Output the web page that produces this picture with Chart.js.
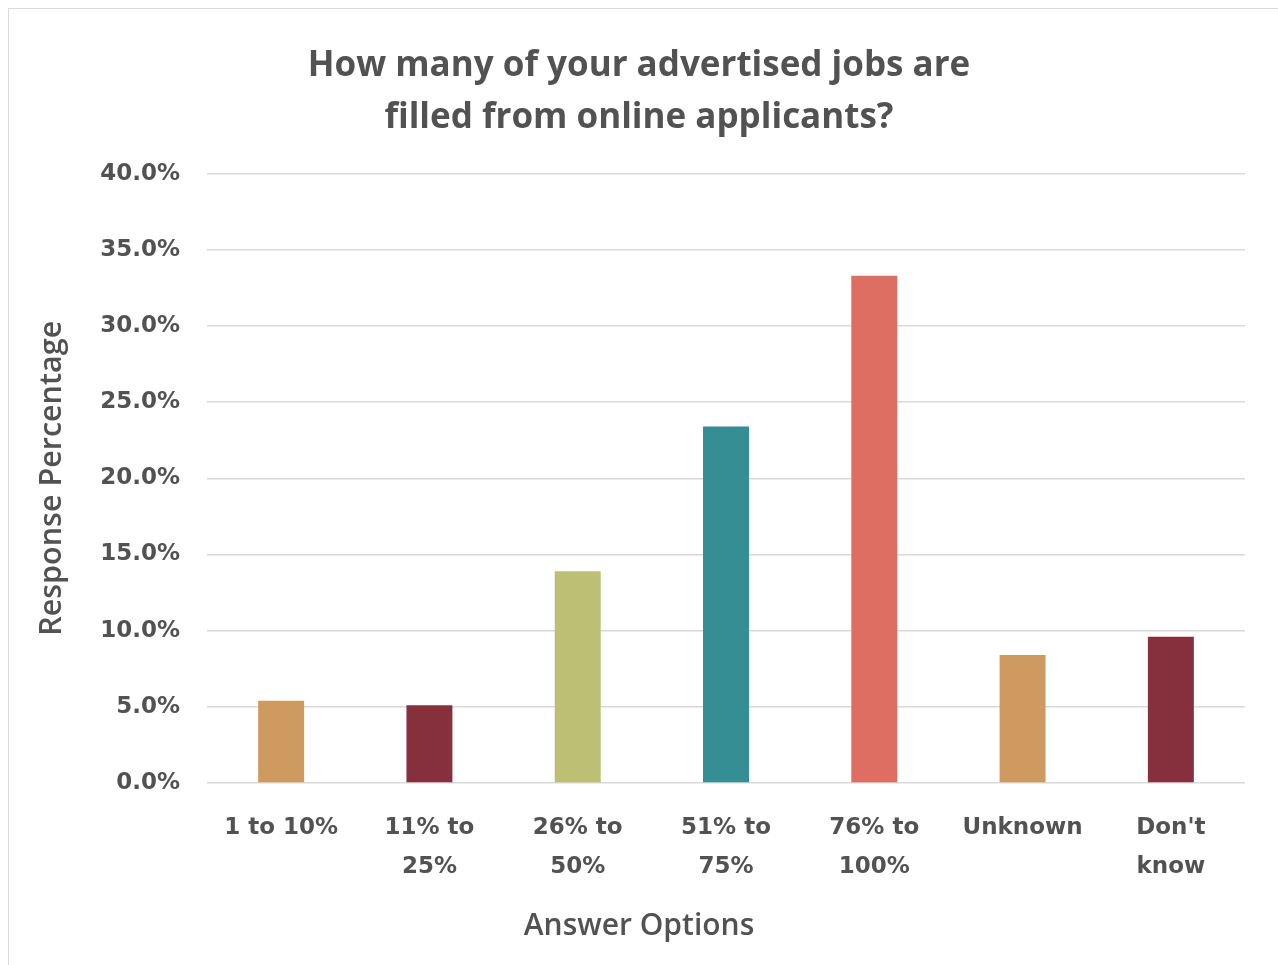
<!DOCTYPE html>
<html>
<head>
<meta charset="utf-8">
<script src="https://cdn.jsdelivr.net/npm/chart.js@4.4.0/dist/chart.umd.min.js"></script>
<style>
  html, body { margin: 0; padding: 0; background: #fff; overflow: hidden; }
  .frame { position: absolute; left: 8px; top: 8px; width: 1400px; height: 1100px; border: 1px solid #d9d9d9; }
  .wrap { position: absolute; left: 0; top: 0; width: 1278px; height: 965px; }
</style>
</head>
<body>
<div class="frame"></div>
<div class="wrap"><canvas id="chart"></canvas></div>
<script>
const answerOptions = [
  ['1 to 10%'],
  ['11% to', '25%'],
  ['26% to', '50%'],
  ['51% to', '75%'],
  ['76% to', '100%'],
  ['Unknown'],
  ["Don't", 'know']
];
const responsePct = [5.4, 5.1, 13.9, 23.4, 33.3, 8.4, 9.6];
const barColors = ['#CF9A60', '#87303D', '#BDBF74', '#348E93', '#DE6D62', '#CF9A60', '#87303D'];
const titleLines = ['How many of your advertised jobs are', 'filled from online applicants?'];
const xTitle = 'Answer Options';
const yTitle = 'Response Percentage';

const textColor = '#525252';

const chart = new Chart(document.getElementById('chart'), {
  type: 'bar',
  data: {
    labels: answerOptions,
    datasets: [{
      label: yTitle,
      data: responsePct,
      backgroundColor: barColors,
      borderWidth: 0,
      barPercentage: 0.31,
      categoryPercentage: 1.0
    }]
  },
  options: {
    responsive: true,
    maintainAspectRatio: false,
    animation: false,
    layout: { padding: { left: 33, right: 33, top: 0, bottom: 0 } },
    plugins: {
      legend: { display: false },
      tooltip: { enabled: false },
      title: {
        display: true,
        text: titleLines,
        color: textColor,
        font: { family: 'Open Sans', size: 35, weight: '700', lineHeight: 1.48 },
        padding: { top: 40, bottom: 30 }
      },
      // axis caption under the ticks, centred on the whole chart box
      subtitle: {
        display: true,
        position: 'bottom',
        text: xTitle,
        color: textColor,
        font: { family: 'Open Sans', size: 30, weight: '600', lineHeight: 1.2 },
        padding: { top: 0, bottom: 21 }
      }
    },
    scales: {
      x: {
        grid: { display: false },
        border: { display: false },
        ticks: {
          color: textColor,
          font: { family: 'DejaVu Sans', size: 23, weight: 'bold', lineHeight: 1.7 },
          padding: 17,
          maxRotation: 0,
          autoSkip: false
        },
        afterFit: (scale) => { scale.height = 125; }
      },
      y: {
        min: 0,
        max: 40,
        grid: { color: '#d9d9d9', lineWidth: 1.5, drawTicks: false },
        border: { display: false },
        ticks: {
          stepSize: 5,
          color: textColor,
          font: { family: 'DejaVu Sans', size: 23, weight: 'bold' },
          padding: 27,
          callback: (v) => v.toFixed(1) + '%'
        },
        title: {
          display: true,
          text: yTitle,
          color: textColor,
          font: { family: 'Open Sans', size: 30.5, weight: '600' },
          padding: { top: 1, bottom: 0 }
        },
        afterFit: (scale) => { scale.width = 174; }
      }
    }
  }
});
</script>
</body>
</html>
